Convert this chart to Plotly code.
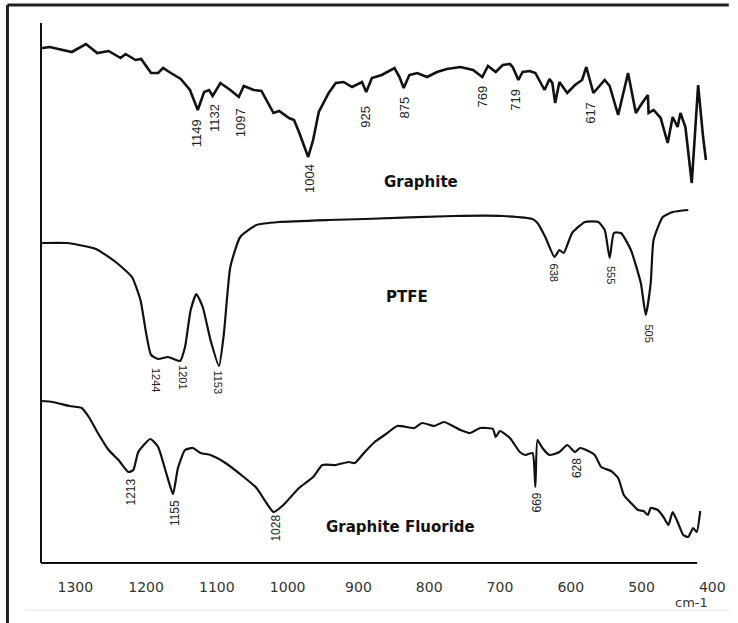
import plotly.graph_objects as go

# ---- Graphite spectrum (wavenumber cm-1, transmittance a.u.) ----
graphite_wn = [1348, 1346, 1336, 1322, 1305, 1285, 1269, 1253, 1236, 1229, 1215, 1207, 1193, 1183,
               1176, 1165, 1151, 1138, 1127, 1118, 1111, 1106, 1095, 1081, 1069, 1062, 1048, 1037,
               1020, 1012, 998, 991, 984, 971, 964, 956, 942, 932, 921, 909, 895, 889, 881, 867,
               859, 849, 842, 836, 828, 817, 803, 789, 775, 756, 738, 725, 717, 706, 696, 686,
               682, 674, 668, 658, 650, 637, 630, 626, 622, 616, 605, 594, 584, 578, 568, 552,
               545, 533, 519, 508, 501, 491, 490, 483, 473, 463, 456, 449, 445, 438, 429, 420,
               413, 409]
graphite_t = [103.0, 103.0, 103.2, 102.8, 102.2, 103.8, 102.0, 102.4, 101.0, 101.8, 100.6, 100.8,
              98.0, 98.0, 99.0, 98.0, 96.8, 94.6, 90.6, 94.2, 94.6, 93.4, 96.0, 94.6, 93.2, 95.4,
              94.6, 94.4, 90.0, 90.4, 89.0, 88.6, 86.2, 81.2, 84.6, 90.2, 94.0, 96.0, 96.2, 95.2,
              96.2, 94.2, 97.0, 97.6, 98.2, 99.0, 97.2, 95.0, 97.6, 98.0, 97.2, 98.2, 98.8, 99.2,
              98.6, 97.2, 99.4, 98.2, 99.6, 99.8, 99.2, 96.6, 98.2, 98.4, 98.0, 94.6, 96.8, 96.0,
              92.0, 96.2, 94.0, 95.6, 96.6, 99.2, 94.0, 96.6, 95.4, 89.6, 98.0, 90.0, 91.6, 93.6,
              90.0, 90.6, 89.0, 84.0, 89.2, 87.2, 90.0, 87.2, 76.0, 95.6, 85.2, 80.6]

# ---- PTFE spectrum ----
ptfe_wn = [1347, 1312, 1271, 1243, 1220, 1208, 1200, 1193, 1183, 1169, 1152, 1145, 1137, 1129,
           1120, 1109, 1097, 1090, 1081, 1067, 1044, 1012, 942, 891, 765, 696, 654, 647, 636,
           623, 616, 610, 598, 580, 561, 552, 545, 539, 529, 515, 501, 494, 487, 483, 470, 456, 434]
ptfe_t = [64.0, 64.0, 62.8, 60.2, 57.2, 52.6, 46.0, 41.6, 40.8, 41.2, 40.4, 43.2, 50.6, 53.8,
          51.2, 44.6, 39.4, 46.0, 59.2, 65.2, 67.6, 68.2, 68.6, 68.8, 69.4, 69.4, 68.8, 68.0, 65.2,
          61.2, 62.6, 62.0, 66.0, 68.2, 68.2, 66.6, 61.0, 66.0, 66.0, 62.6, 56.0, 49.6, 56.0,
          64.6, 69.2, 70.2, 70.6]

# ---- Graphite Fluoride spectrum ----
gf_wn = [1348, 1332, 1308, 1291, 1280, 1269, 1253, 1239, 1225, 1218, 1211, 1194, 1183, 1172,
         1162, 1155, 1145, 1134, 1123, 1109, 1090, 1062, 1044, 1030, 1020, 1006, 984, 964, 951,
         932, 914, 905, 891, 877, 863, 845, 821, 810, 793, 779, 756, 742, 728, 710, 706, 700,
         686, 672, 664, 654, 650, 647, 640, 630, 616, 605, 594, 587, 575, 566, 557, 543, 533,
         525, 515, 505, 497, 491, 487, 477, 469, 462, 456, 449, 441, 434, 427, 422, 417]
gf_t = [32.4, 32.2, 31.4, 31.0, 29.0, 26.2, 22.6, 20.6, 18.2, 18.6, 22.2, 24.8, 23.2, 18.2,
        13.8, 19.0, 22.6, 23.0, 22.0, 21.6, 20.2, 17.2, 15.0, 12.0, 10.2, 11.6, 15.0, 17.2, 19.6,
        19.6, 20.2, 20.0, 22.2, 24.2, 25.6, 27.4, 27.0, 28.0, 27.4, 28.2, 26.6, 26.0, 27.0, 26.8,
        25.2, 26.4, 25.0, 22.2, 21.6, 22.0, 15.2, 24.6, 23.0, 21.6, 22.2, 23.6, 22.2, 23.0, 22.4,
        21.6, 19.2, 18.4, 17.0, 13.6, 12.0, 10.6, 10.4, 9.6, 11.0, 10.6, 9.2, 7.6, 10.2, 8.2,
        5.6, 5.2, 7.0, 6.2, 10.4]

# ---- peak labels ----
graphite_peaks = ["1149", "1132", "1097", "1004", "925", "875", "769", "719", "617"]
graphite_peak_x = [1129, 1104, 1067, 970, 891, 835, 726, 679, 573]
graphite_peak_y = [86.0, 89.0, 88.0, 77.0, 89.2, 91.2, 93.2, 92.6, 90.0]

ptfe_peaks = ["1244", "1201", "1153", "638", "555", "505"]
ptfe_peak_x = [1186, 1148, 1099, 623, 543, 490]
ptfe_peak_y = [36.6, 37.2, 36.2, 58.0, 57.6, 46.0]

gf_peaks = ["1213", "1155", "1028", "669", "628"]
gf_peak_x = [1222, 1159, 1017, 647, 591]
gf_peak_y = [14.2, 10.0, 7.0, 12.2, 19.0]

series_names = ["Graphite", "PTFE", "Graphite Fluoride"]
series_name_x = [811, 831, 840]
series_name_y = [76.2, 53.2, 7.2]

tick_vals = [1300, 1200, 1100, 1000, 900, 800, 700, 600, 500, 400]
tick_text = [str(v) for v in tick_vals]

fig = go.Figure()
for wn, t, w, shp in [(graphite_wn, graphite_t, 2.6, "linear"),
                      (ptfe_wn, ptfe_t, 2.2, "spline"),
                      (gf_wn, gf_t, 2.2, "spline")]:
    fig.add_trace(go.Scatter(x=wn, y=t, mode="lines",
                             line=dict(color="#111111", width=w, shape=shp, smoothing=0.5),
                             showlegend=False, hoverinfo="skip"))

annotations = []
for txt, x, y in zip(graphite_peaks, graphite_peak_x, graphite_peak_y):
    annotations.append(dict(x=x, y=y, text=txt, showarrow=False, textangle=-90,
                            xanchor="center", yanchor="middle",
                            font=dict(family="Liberation Sans Narrow, Liberation Sans", size=13, color="#222")))
for txt, x, y in zip(ptfe_peaks, ptfe_peak_x, ptfe_peak_y):
    annotations.append(dict(x=x, y=y, text=txt, showarrow=False, textangle=90,
                            xanchor="center", yanchor="middle",
                            font=dict(family="Liberation Sans Narrow, Liberation Sans", size=11, color="#222")))
for txt, x, y in zip(gf_peaks, gf_peak_x, gf_peak_y):
    annotations.append(dict(x=x, y=y, text=txt, showarrow=False, textangle=-90,
                            xanchor="center", yanchor="middle",
                            font=dict(family="Liberation Sans Narrow, Liberation Sans", size=12, color="#222")))
for txt, x, y in zip(series_names, series_name_x, series_name_y):
    annotations.append(dict(x=x, y=y, text="<b>" + txt + "</b>", showarrow=False,
                            xanchor="center", yanchor="middle",
                            font=dict(family="DejaVu Sans", size=15, color="#111")))
annotations.append(dict(xref="paper", yref="paper", x=0.9677, y=-0.074, text="cm-1",
                        xanchor="center", yanchor="middle",
                        showarrow=False, font=dict(family="DejaVu Sans", size=13, color="#333")))

shapes = [
    # axes lines
    dict(type="line", xref="paper", yref="paper", x0=0, x1=0, y0=0, y1=1,
         line=dict(color="#111", width=2)),
    dict(type="line", xref="paper", yref="paper", x0=0, x1=0.9765, y0=0, y1=0,
         line=dict(color="#111", width=2)),
    # outer frame
    dict(type="line", xref="paper", yref="paper", x0=-0.0499, x1=1.0235, y0=1.0333, y1=1.0333,
         line=dict(color="#222", width=3)),
    dict(type="line", xref="paper", yref="paper", x0=-0.0499, x1=-0.0499, y0=1.0333, y1=-0.115,
         line=dict(color="#222", width=3)),
    dict(type="line", xref="paper", yref="paper", x0=-0.024, x1=1.0235, y0=-0.087, y1=-0.087,
         line=dict(color="#f0f0f0", width=2)),
]

fig.update_layout(
    width=738, height=623,
    margin=dict(l=41, r=16, t=23, b=60),
    paper_bgcolor="white", plot_bgcolor="white",
    annotations=annotations, shapes=shapes,
    xaxis=dict(range=[1348.5, 399], showgrid=False, zeroline=False, showline=False,
               tickvals=tick_vals, ticktext=tick_text, ticks="", ticklabelstandoff=14,
               tickfont=dict(family="DejaVu Sans", size=14, color="#333")),
    yaxis=dict(range=[0, 108], showgrid=False, zeroline=False, showline=False,
               showticklabels=False, ticks=""),
)

fig.write_html("out.html")
